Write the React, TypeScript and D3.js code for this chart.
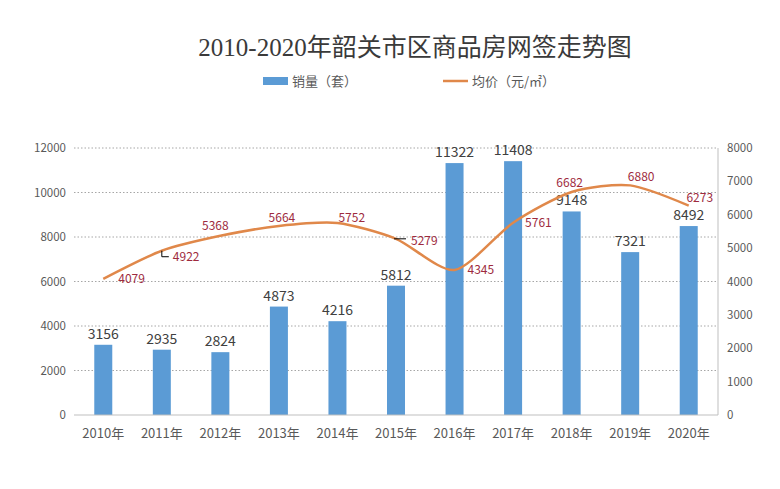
import React from "react";
import * as d3 from "d3";

const years = ["2010年","2011年","2012年","2013年","2014年","2015年","2016年","2017年","2018年","2019年","2020年"];
const sales = [3156, 2935, 2824, 4873, 4216, 5812, 11322, 11408, 9148, 7321, 8492];
const prices = [4079, 4922, 5368, 5664, 5752, 5279, 4345, 5761, 6682, 6880, 6273];
const leftTicks = [0, 2000, 4000, 6000, 8000, 10000, 12000];
const rightTicks = [0, 1000, 2000, 3000, 4000, 5000, 6000, 7000, 8000];
const titleYears = "2010-2020";
const titleRest = "年韶关市区商品房网签走势图";
const legendSales = "销量（套）";
const legendPrice = "均价（元/㎡）";

// label layout (offsets from the point, px) and leader style
const priceLabelOffsets: [number, number, string][] = [
  [15, 4, "start"], [11, 10, "start"], [-5, -6, "middle"], [3, -4, "middle"],
  [1, -1, "start"], [15, 6, "start"], [13, 4, "start"], [12, 4, "start"],
  [-2, -5, "middle"], [11, -4, "middle"], [11, -4, "middle"],
];
const leaders = ["", "L", "", "", "", "-", "", "", "", "", ""];

export default function App() {
  const W = 780, H = 489;
  const left = 74, right = 718, top = 148, bottom = 415;
  const x = d3.scaleBand<string>().domain(years).range([left, right]).padding(0);
  const yL = d3.scaleLinear().domain([0, 12000]).range([bottom, top]);
  const yR = d3.scaleLinear().domain([0, 8000]).range([bottom, top]);
  const cx = (i: number) => (x(years[i]) as number) + x.bandwidth() / 2;
  const barW = 18;
  const line = d3.line<number>()
    .x((_, i) => cx(i))
    .y((d) => yR(d))
    .curve(d3.curveCardinal.tension(0.25));
  const sans = "'Microsoft YaHei', 'Noto Sans CJK SC', 'Noto Sans', sans-serif";
  const axisColor = "#595959";

  return (
    <svg width={W} height={H} style={{ position: "absolute", left: 0, top: 0, background: "#fff" }}>
      <rect x={0} y={0} width={W} height={H} fill="#fff" />
      <text x={415} y={56} textAnchor="middle" fontSize={25} fill="#3A3A3A">
        <tspan fontFamily="'Liberation Serif', serif" fontWeight={400}>{titleYears}</tspan>
        <tspan fontFamily="'Noto Sans CJK SC', sans-serif" fontWeight={400}>{titleRest}</tspan>
      </text>
      {/* legend */}
      <rect x={263} y={77} width={25} height={8} fill="#5B9BD5" />
      <text x={292} y={86} fontSize={13} fill={axisColor} fontFamily={sans}>{legendSales}</text>
      <line x1={443} x2={468} y1={81} y2={81} stroke="#E0884A" strokeWidth={2.5} />
      <text x={472} y={86} fontSize={13} fill={axisColor} fontFamily={sans}>{legendPrice}</text>

      {/* gridlines */}
      {leftTicks.slice(1).map((t) => (
        <line key={t} x1={left} x2={right} y1={yL(t)} y2={yL(t)} stroke="#A6A6A6" strokeWidth={1} strokeDasharray="1.5,2" />
      ))}
      {leftTicks.map((t) => (
        <text key={"l" + t} x={66} y={yL(t) + 4} textAnchor="end" fontSize={11.5} fill={axisColor} fontFamily={sans}>{t}</text>
      ))}
      {rightTicks.map((t) => (
        <text key={"r" + t} x={727} y={yR(t) + 4} textAnchor="start" fontSize={11.5} fill={axisColor} fontFamily={sans}>{t}</text>
      ))}
      <line x1={right} x2={right} y1={top} y2={bottom} stroke="#BFBFBF" />

      {/* bars */}
      {sales.map((v, i) => (
        <rect key={i} x={cx(i) - barW / 2} y={yL(v)} width={barW} height={bottom - yL(v)} fill="#5B9BD5" />
      ))}
      <line x1={left} x2={right} y1={bottom} y2={bottom} stroke="#BFBFBF" />
      {sales.map((v, i) => (
        <text key={"b" + i} x={cx(i)} y={yL(v) - 6} textAnchor="middle" fontSize={14} fill="#404040" fontFamily={sans}>{v}</text>
      ))}
      {years.map((y, i) => (
        <text key={"x" + i} x={cx(i)} y={438} textAnchor="middle" fontSize={13} fill={axisColor} fontFamily={sans}>{y}</text>
      ))}

      {/* price line */}
      <path d={line(prices) as string} fill="none" stroke="#E0884A" strokeWidth={2.5} strokeLinejoin="round" />
      {prices.map((v, i) => {
        const px = cx(i), py = yR(v);
        const [dx, dy, anchor] = priceLabelOffsets[i];
        return (
          <g key={"p" + i}>
            {leaders[i] === "L" && (
              <path d={`M${px},${py} L${px},${py + 6} L${px + 7},${py + 6}`} fill="none" stroke="#000" strokeWidth={1} />
            )}
            {leaders[i] === "-" && (
              <line x1={px - 2} x2={px + 10} y1={py} y2={py} stroke="#000" strokeWidth={1} />
            )}
            <text x={px + dx} y={py + dy} textAnchor={anchor as any} fontSize={12} fill="#9E2B3E" fontFamily={sans}>{v}</text>
          </g>
        );
      })}
    </svg>
  );
}
